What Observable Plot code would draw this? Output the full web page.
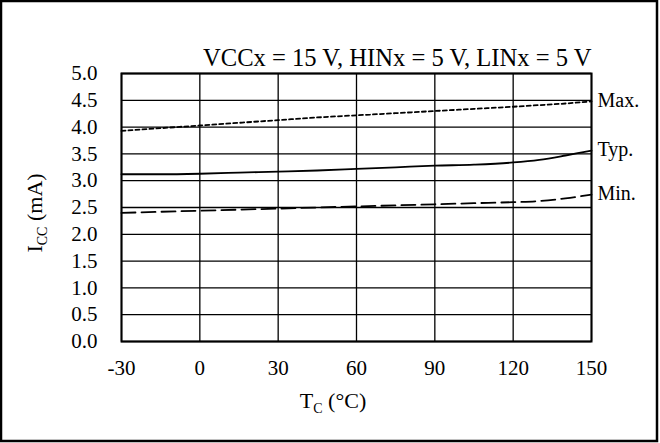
<!DOCTYPE html>
<html><head><meta charset="utf-8">
<script src="https://cdn.jsdelivr.net/npm/d3@7"></script>
<script src="https://cdn.jsdelivr.net/npm/@observablehq/plot@0.6"></script>
<style>body{margin:0;background:#fff}</style>
</head><body><div id="chart"></div>
<script>
// Data
const temps   = [-30, -15, 0, 15, 30, 45, 60, 75, 90, 105, 120, 130, 140, 150];
const maxVals = [3.93, 3.98, 4.03, 4.08, 4.13, 4.18, 4.22, 4.26, 4.30, 4.34, 4.38, 4.41, 4.44, 4.48];
const typVals = [3.12, 3.12, 3.13, 3.15, 3.17, 3.19, 3.22, 3.25, 3.28, 3.30, 3.34, 3.39, 3.47, 3.56];
const minVals = [2.40, 2.42, 2.44, 2.46, 2.48, 2.50, 2.52, 2.54, 2.56, 2.58, 2.60, 2.62, 2.67, 2.74];
const seriesNames = ["Max.", "Typ.", "Min."];
const xTicks = [-30, 0, 30, 60, 90, 120, 150];
const yTicks = [0, 0.5, 1, 1.5, 2, 2.5, 3, 3.5, 4, 4.5, 5];
const titleText = "VCCx = 15 V, HINx = 5 V, LINx = 5 V";

const seriesVals = [maxVals, typVals, minVals];
const rows = seriesNames.map((s, i) => temps.map((t, j) => ({series: s, t, v: seriesVals[i][j]})));
const ends = rows.map(r => r[r.length - 1]);

const font = "Liberation Serif, Times New Roman, serif";
const dashes = {"Max.": "4,3", "Typ.": null, "Min.": "14,6"};

const chart = Plot.plot({
  width: 660, height: 443,
  marginLeft: 121, marginRight: 69, marginTop: 73, marginBottom: 102,
  style: {fontFamily: font, fontSize: "21px", color: "#000", background: "#fff"},
  x: {domain: [-30, 150], ticks: xTicks, tickFormat: d => String(d), label: null, tickSize: 0, tickPadding: 19},
  y: {domain: [0, 5], ticks: yTicks, tickFormat: d => d.toFixed(1), label: null, tickSize: 0, tickPadding: 24},
  marks: [
    Plot.gridX(xTicks, {stroke: "#000", strokeOpacity: 1, strokeWidth: 1.3}),
    Plot.gridY(yTicks, {stroke: "#000", strokeOpacity: 1, strokeWidth: 1.3}),
    Plot.frame({stroke: "#000", strokeWidth: 2}),
    ...rows.map(r => Plot.line(r, {x: "t", y: "v", curve: "monotone-x", stroke: "#000", strokeWidth: 1.8,
      strokeDasharray: dashes[r[0].series]})),
    Plot.text(ends, {x: "t", y: "v", text: "series", textAnchor: "start", dx: 6, dy: -1, fontSize: 20}),
    Plot.text([titleText], {frameAnchor: "top-right", text: d => d, textAnchor: "end", lineAnchor: "bottom", dy: -8, fontSize: 24.6})
  ]
});

const svg = d3.select(chart);
// outer border
svg.append("rect").attr("x", 1).attr("y", 1).attr("width", 656).attr("height", 440)
  .attr("fill", "none").attr("stroke", "#000").attr("stroke-width", 2.5);
// y-axis label with subscript
const yl = svg.append("text").attr("transform", "translate(42,213) rotate(-90)")
  .attr("text-anchor", "middle").attr("font-size", 22).attr("font-family", font).attr("fill", "#000");
yl.append("tspan").text("I");
yl.append("tspan").attr("font-size", 14).attr("dy", 5).text("CC");
yl.append("tspan").attr("dy", -5).text(" (mA)");
// x-axis label with subscript
const xl = svg.append("text").attr("x", 333).attr("y", 408)
  .attr("text-anchor", "middle").attr("font-size", 22).attr("font-family", font).attr("fill", "#000");
xl.append("tspan").text("T");
xl.append("tspan").attr("font-size", 14).attr("dy", 5).text("C");
xl.append("tspan").attr("dy", -5).text(" (°C)");

document.getElementById("chart").append(chart);
</script>
</body></html>
